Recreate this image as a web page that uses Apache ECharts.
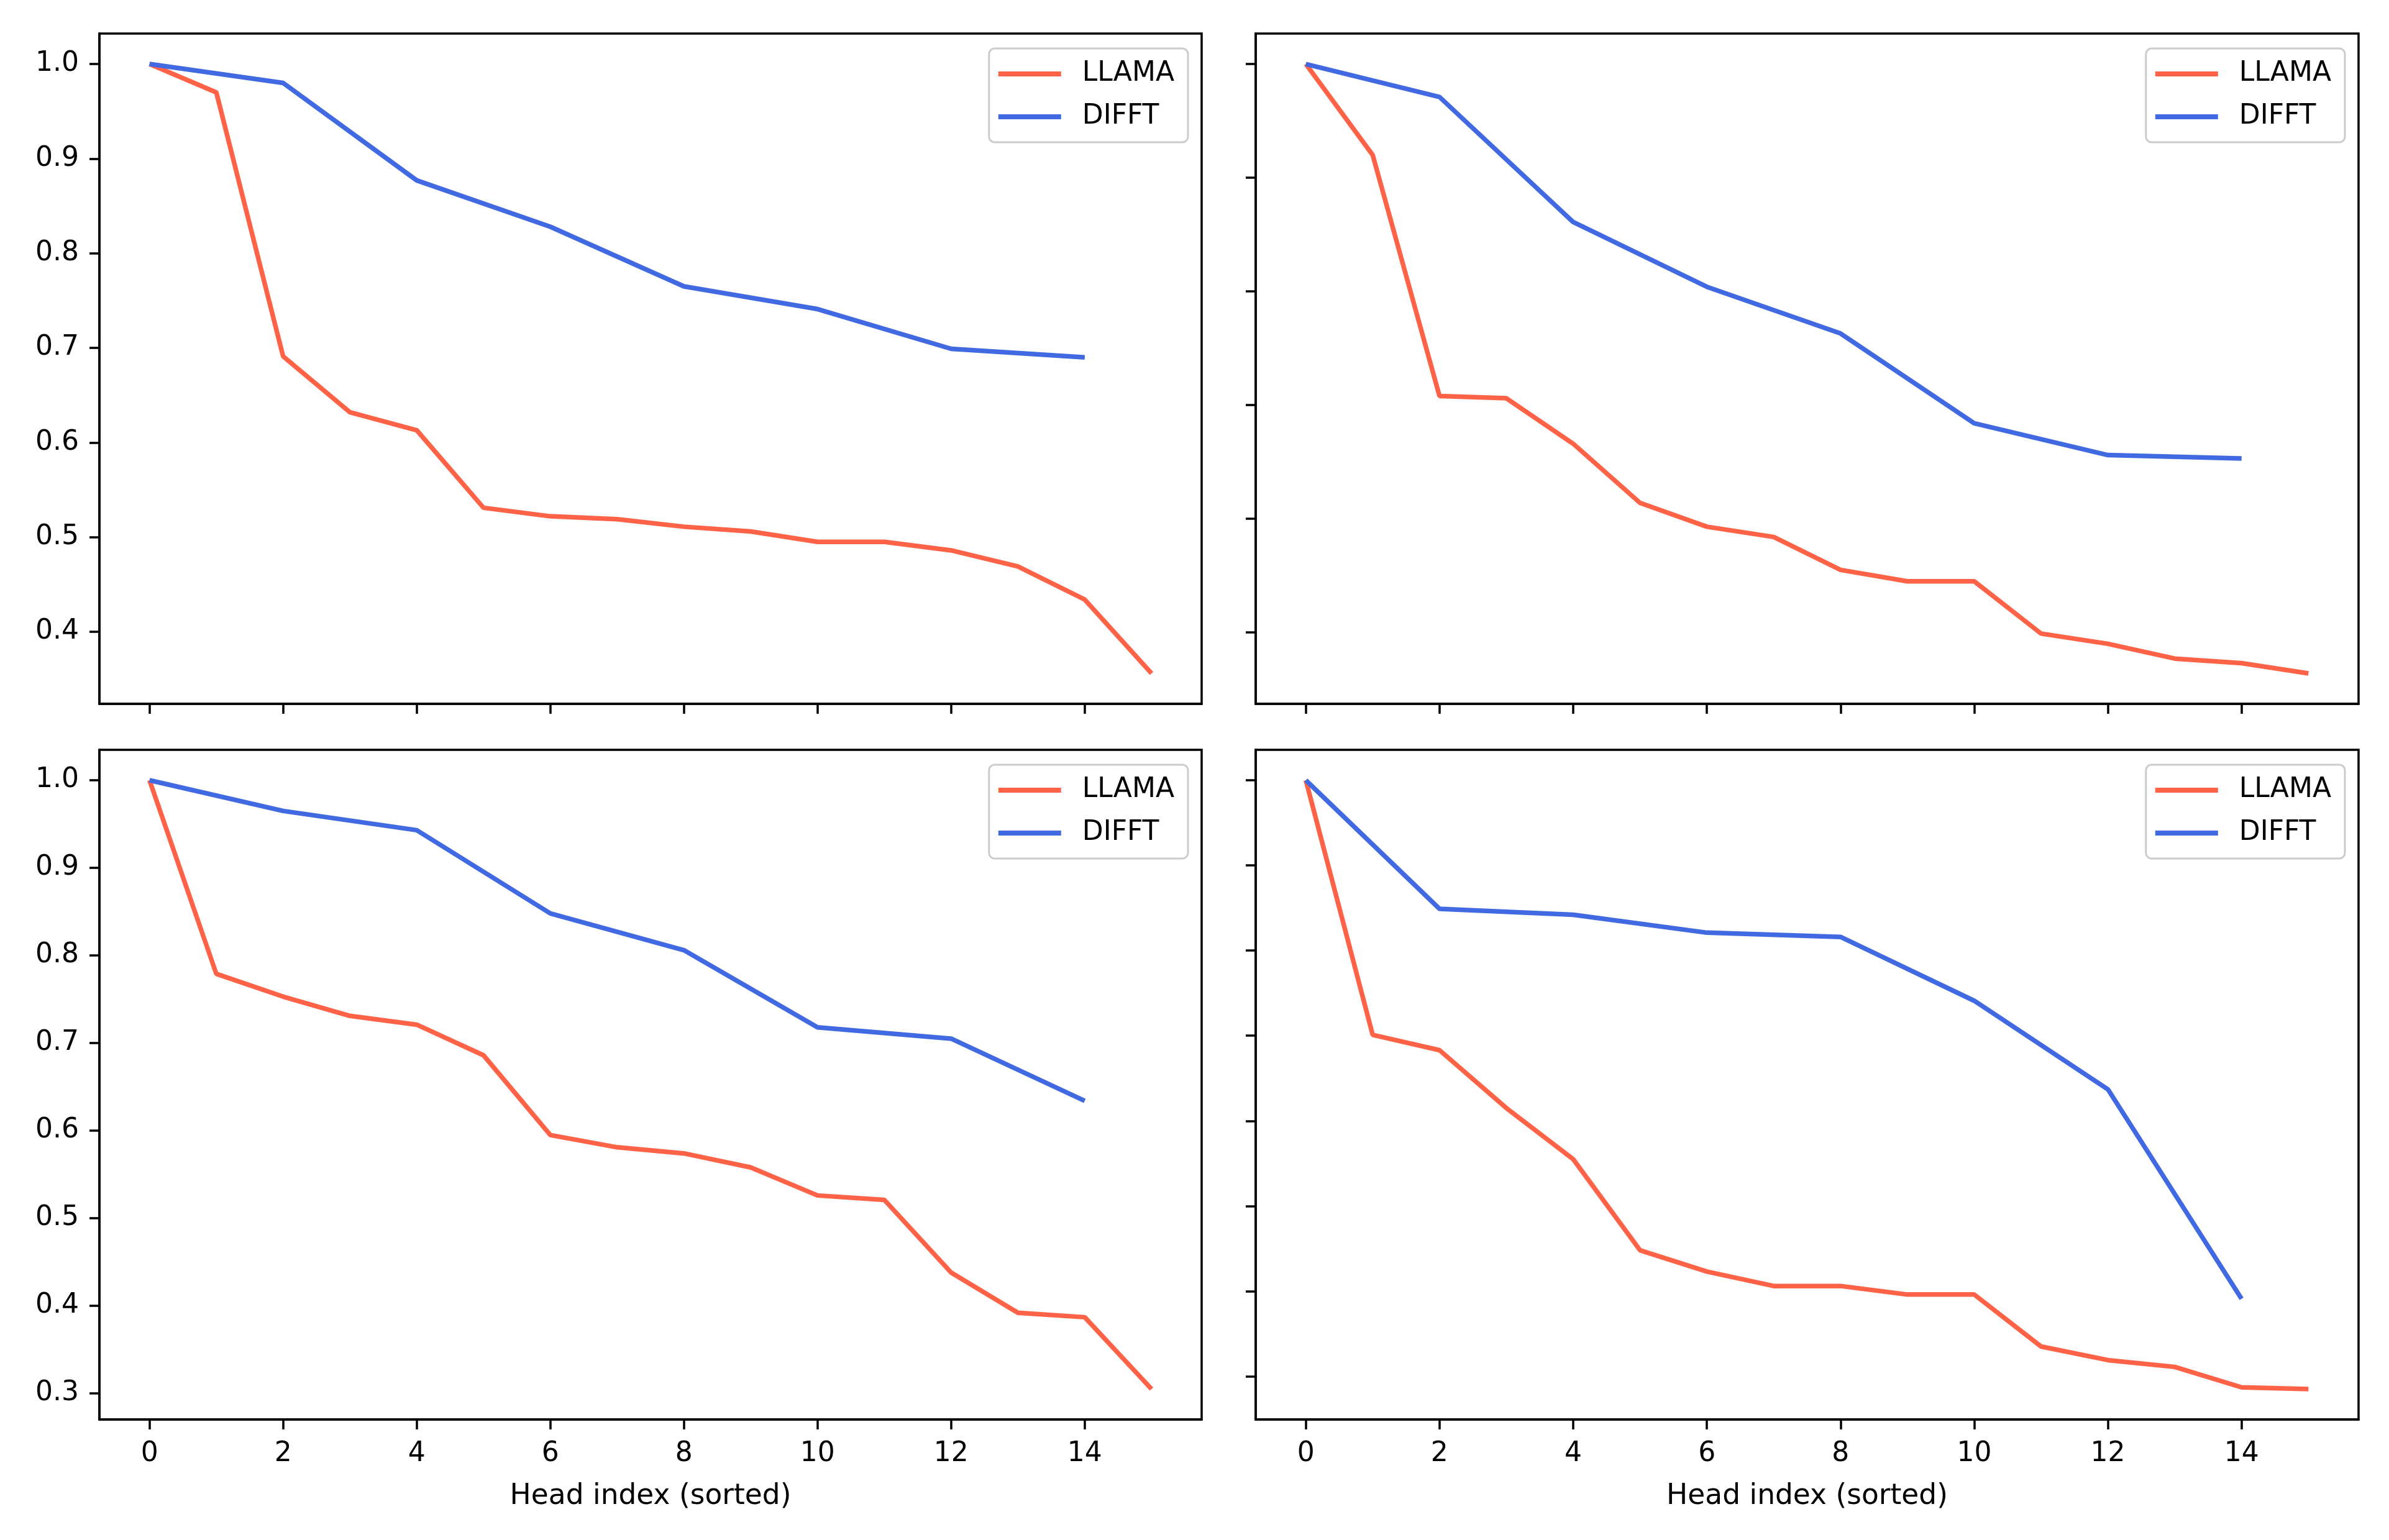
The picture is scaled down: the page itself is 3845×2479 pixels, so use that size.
<!DOCTYPE html>
<html>
<head>
<meta charset="utf-8">
<script src="https://cdn.jsdelivr.net/npm/echarts@6/dist/echarts.min.js"></script>
<style>
html, body { margin: 0; padding: 0; background: #ffffff; }
#chart { width: 3845px; height: 2479px; }
</style>
</head>
<body>
<div id="chart"></div>
<script>
// ---- data ----
const headIdx = [0, 1, 2, 3, 4, 5, 6, 7, 8, 9, 10, 11, 12, 13, 14, 15];
const difftIdx = [0, 2, 4, 6, 8, 10, 12, 14];

const llamaTL = [1.0, 0.970, 0.691, 0.632, 0.613, 0.531, 0.522, 0.519, 0.511, 0.506, 0.495, 0.495, 0.486, 0.469, 0.434, 0.356];
const difftTL = [1.0, 0.980, 0.877, 0.828, 0.765, 0.741, 0.699, 0.690];

const llamaTR = [1.0, 0.920, 0.708, 0.706, 0.666, 0.614, 0.593, 0.584, 0.555, 0.545, 0.545, 0.499, 0.490, 0.477, 0.473, 0.464];
const difftTR = [1.0, 0.971, 0.861, 0.804, 0.763, 0.684, 0.656, 0.653];

const llamaBL = [1.0, 0.779, 0.753, 0.731, 0.721, 0.686, 0.595, 0.581, 0.574, 0.558, 0.526, 0.521, 0.438, 0.392, 0.387, 0.305];
const difftBL = [1.0, 0.965, 0.943, 0.848, 0.806, 0.718, 0.705, 0.634];

const llamaBR = [1.0, 0.701, 0.683, 0.615, 0.555, 0.448, 0.423, 0.406, 0.406, 0.396, 0.396, 0.335, 0.319, 0.311, 0.287, 0.285];
const difftBR = [1.0, 0.849, 0.842, 0.821, 0.816, 0.741, 0.637, 0.391];

const xTicks = [0, 2, 4, 6, 8, 10, 12, 14];
const yTicks = [0.3, 0.4, 0.5, 0.6, 0.7, 0.8, 0.9, 1.0];
const seriesNames = ['LLAMA', 'DIFFT'];
const xAxisTitle = 'Head index (sorted)';

// ---- styling / layout ----
const FONT = 'DejaVu Sans';
const FS = 44;
const RED = '#FF6347';
const BLUE = '#4169E1';
const W = 3845;
const LW = 7.5;

const panels = [
  { llama: llamaTL, difft: difftTL, left: 160, top: 54, w: 1774, h: 1079, yLabels: true, xLabels: false },
  { llama: llamaTR, difft: difftTR, left: 2021, top: 54, w: 1775, h: 1079, yLabels: false, xLabels: false },
  { llama: llamaBL, difft: difftBL, left: 160, top: 1207, w: 1774, h: 1078, yLabels: true, xLabels: true },
  { llama: llamaBR, difft: difftBR, left: 2021, top: 1207, w: 1775, h: 1078, yLabels: false, xLabels: true }
];

function limits(a, b) {
  const all = a.concat(b);
  const mn = Math.min.apply(null, all), mx = Math.max.apply(null, all);
  const r = mx - mn;
  return [mn - 0.05 * r, mx + 0.05 * r];
}

const grid = [], xAxis = [], yAxis = [], series = [], legend = [];
panels.forEach((p, i) => {
  grid.push({
    left: p.left, top: p.top, width: p.w, height: p.h,
    show: true, borderColor: '#000', borderWidth: 3.5, backgroundColor: 'transparent'
  });
  xAxis.push({
    type: 'value', gridIndex: i, min: -0.75, max: 15.75,
    splitLine: { show: false },
    axisLine: { show: true, onZero: false, lineStyle: { color: '#000', width: 3.5 } },
    axisTick: { show: true, customValues: xTicks, length: 16, lineStyle: { color: '#000', width: 3.5 } },
    axisLabel: { show: p.xLabels, customValues: xTicks, margin: 34, fontFamily: FONT, fontSize: FS, color: '#000' },
    name: p.xLabels ? xAxisTitle : '',
    nameLocation: 'middle', nameGap: 101,
    nameTextStyle: { fontFamily: FONT, fontSize: 45.5, color: '#000' }
  });
  const lim = limits(p.llama, p.difft);
  const yt = yTicks.filter(v => v >= lim[0] && v <= lim[1]);
  yAxis.push({
    type: 'value', gridIndex: i, min: lim[0], max: lim[1],
    splitLine: { show: false },
    axisLine: { show: true, onZero: false, lineStyle: { color: '#000', width: 3.5 } },
    axisTick: { show: true, customValues: yt, length: 16, lineStyle: { color: '#000', width: 3.5 } },
    axisLabel: { show: p.yLabels, customValues: yt, margin: 33, fontFamily: FONT, fontSize: FS, color: '#000',
      formatter: v => Number(v).toFixed(1) }
  });
  series.push({
    name: seriesNames[0], type: 'line', xAxisIndex: i, yAxisIndex: i,
    data: headIdx.map((x, k) => [x, p.llama[k]]),
    symbol: 'none', showSymbol: false, color: RED,
    lineStyle: { color: RED, width: LW }
  });
  series.push({
    name: seriesNames[1], type: 'line', xAxisIndex: i, yAxisIndex: i,
    data: difftIdx.map((x, k) => [x, p.difft[k]]),
    symbol: 'none', showSymbol: false, color: BLUE,
    lineStyle: { color: BLUE, width: LW }
  });
  legend.push({
    data: seriesNames,
    orient: 'vertical',
    right: W - (p.left + p.w - 22),
    top: p.top + 24,
    icon: 'rect', itemWidth: 101, itemHeight: 8, itemGap: 25,
    padding: [19, 22, 19, 15],
    backgroundColor: 'rgba(255,255,255,0.8)',
    borderColor: '#cccccc', borderWidth: 3, borderRadius: 9,
    selectedMode: false,
    textStyle: { fontFamily: FONT, fontSize: FS, color: '#000', lineHeight: 44, padding: [0, 0, 0, 29] }
  });
});

const chart = echarts.init(document.getElementById('chart'), null, { renderer: 'canvas' });
chart.setOption({
  animation: false,
  backgroundColor: '#ffffff',
  grid, xAxis, yAxis, series, legend
});
</script>
</body>
</html>
